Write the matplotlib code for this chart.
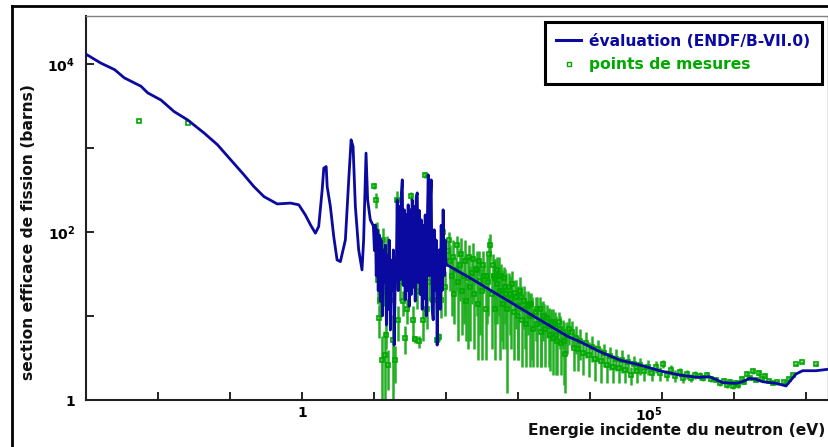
import numpy as np
import matplotlib
matplotlib.use("Agg")
import matplotlib.pyplot as plt
from matplotlib.lines import Line2D

plt.rcParams['mathtext.fontset'] = 'dejavusans'

# evaluated curve (ENDF/B-VII.0), energy in eV, cross section in barns
eval_energy = [1.0e-3, 1.6e-3, 2.5e-3, 3.4e-3, 5.8e-3, 7.2e-3, 0.011, 0.0167, 0.0257,
               0.0436, 0.0667, 0.102, 0.156, 0.214, 0.295, 0.452, 0.69, 0.90, 1.11,
               1.31, 1.53, 1.70, 1.90, 2.00, 2.16, 2.23, 2.47, 2.75, 3.06, 3.40, 3.99,
               4.44, 4.79, 5.10, 5.49, 6.10, 6.79, 7.15, 7.72, 8.13, 8.85,
               9.75, 10.1, 10.4, 10.7, 11.0, 11.4, 11.8, 12.2, 12.6, 13.0, 13.4, 13.8,
               14.3, 14.8, 15.2, 15.7, 16.2, 16.8, 17.3, 17.9, 18.5, 19.0, 19.7, 20.3,
               20.9, 21.6, 22.3, 23.1, 23.8, 24.6, 25.4, 26.2, 27.0, 27.9, 28.8, 29.7,
               30.7, 31.7, 32.8, 33.8, 34.9, 36.0, 37.2, 38.4, 39.7, 41.0, 42.3, 43.7,
               45.1, 46.5, 48.0, 49.6, 51.2, 52.9, 54.6, 56.4, 58.2, 60.0, 62.0, 64.0,
               66.1, 68.2, 70.4, 72.7, 75.0, 77.5, 80.0, 82.6, 85.3, 88.0, 90.8, 93.8,
               96.8, 100.0,
               103, 239, 693, 2004, 4940, 7180, 13600, 25700, 48600, 92000, 174000,
               309000, 454000, 693000, 1.06e6, 1.31e6, 1.62e6, 2.01e6, 2.48e6, 3.80e6,
               5.23e6, 6.14e6, 7.20e6, 8.89e6, 1.36e7, 2.0e7]
eval_sigma = [13000, 10200, 8500, 6800, 5400, 4500, 3700, 2700, 2150,
              1500, 1090, 720, 477, 346, 263, 215, 220, 210, 159,
              121, 96.5, 116, 316, 573, 599, 346, 200, 88, 46.4, 44.3, 80.3,
              416, 1245, 1037, 200, 61.1, 35.3, 80.3, 865, 240, 139,
              118, 60, 121, 30, 106, 20, 92, 15, 80, 10, 61, 25,
              70, 7.8, 53, 12, 80, 6.8, 46, 20, 61, 4.5, 30, 35,
              240, 20, 200, 27, 276, 416, 23, 183, 15.5, 160, 20, 210,
              13, 183, 18, 240, 22, 200, 15, 260, 291, 25, 180, 18,
              139, 12, 120, 16, 159, 10, 120, 477, 30, 200, 416, 12,
              9.0, 106, 20, 80, 4.5, 40, 61, 12, 120, 20, 183, 30,
              80, 40,
              40.5, 26.8, 15.5, 8.96, 5.67, 4.95, 3.76, 2.99, 2.61, 2.23, 1.98,
              1.86, 1.89, 1.61, 1.58, 1.65, 1.81, 1.76, 1.65, 1.58,
              1.47, 1.73, 2.04, 2.23, 2.23, 2.32]

# measured points: energy (eV), cross section (b), uncertainty (b)
meas_energy = [5.4e-3, 0.026,
               10.1, 10.7, 11.0, 11.4, 11.8, 12.2, 12.9, 13.4, 13.8, 14.3, 14.8, 15.2,
               15.7, 16.8, 18.2, 19.0, 19.7, 20.9, 21.3, 21.6, 22.4, 23.1, 24.6, 25.4,
               27.0, 28.8, 30.7, 32.8, 34.9, 37.2, 39.7, 42.3, 45.1, 48.0, 51.2, 54.6,
               58.0, 62.0, 66.1, 70.4, 75.0, 80.0, 85.3, 90.8, 96.8,
               105, 114, 122, 130, 138, 147, 156, 166, 176, 187, 199, 215, 228, 242,
               258, 274, 296, 313, 333, 354, 377, 407, 427, 455, 484, 515, 560, 583,
               620, 660, 700, 770, 820, 870, 925, 985, 1060, 1120, 1190, 1270, 1350,
               1460, 1530, 1630, 1740, 1850, 2000, 2100, 2230, 2380, 2530, 2760, 2870,
               3050, 3240, 3450, 3790, 3900, 4150, 4420, 4700, 5540, 5900, 6270, 6670,
               7180, 7870, 8660, 9550, 10500, 11600, 12800, 14100, 15500, 17100, 18700,
               20700, 22800, 25100, 27700, 30500, 33600, 37000, 40800, 45000, 48600,
               55900, 63200, 71500, 80800, 92000, 103000, 117000, 132000, 150000,
               174000, 197000, 223000, 253000, 287000, 330000, 366000, 418000, 480000,
               550000, 624000, 710000, 780000, 859000, 945000, 1.04e6, 1.14e6, 1.26e6,
               1.38e6, 1.52e6, 1.67e6, 1.84e6, 2.03e6, 2.23e6, 2.45e6, 2.70e6, 3.08e6,
               3.48e6, 3.97e6, 4.84e6, 5.82e6, 6.6e6, 7.3e6, 8.6e6, 1.37e7,
               110, 126, 143, 160, 180, 205, 235, 265, 290, 325, 365, 395, 440, 470,
               500, 540, 600, 640, 680, 740, 800, 900, 1000, 1100, 1230, 1400, 1580,
               1800, 2050, 2300, 2650, 3000, 3350, 3700, 4300, 5000]
meas_sigma = [2100, 1970,
              350, 240, 100, 27, 9.5, 15.5, 3.0, 80, 20, 3.4, 5.9, 60,
              2.6, 15.5, 5.2, 27, 3.0, 240, 46, 9, 150, 25, 110, 15,
              5.5, 12, 55, 270, 9, 5.3, 20, 5.0, 60, 9, 480, 12,
              25, 100, 15.5, 50, 5.2, 5.6, 15.5, 100, 22,
              60, 45, 30, 18, 35, 25, 40, 20, 30, 15, 28, 22, 32, 18,
              36, 14, 26, 20, 30, 12, 25, 70, 18, 30, 12, 24, 20, 30,
              14, 22, 12, 18, 24, 11, 17, 10, 20, 9, 15, 8, 13,
              10, 14, 7, 11, 8, 12, 6.5, 10, 7, 9.5, 6, 8.5,
              5.5, 8, 5, 7, 4.8, 6.5, 3.5, 6, 6.5, 4.2, 5.5, 4,
              5, 3.6, 4.8, 3.4, 4.3, 3.1, 4.0, 2.9, 3.6, 2.6, 3.3,
              2.5, 3.1, 2.4, 3.0, 2.3, 2.8, 2.0, 2.7, 2.2, 2.6,
              2.2, 2.5, 2.1, 2.5, 2.1, 2.7, 2.0, 2.3, 1.95,
              2.15, 1.85, 2.05, 1.85, 2.0, 1.95, 1.85, 2.0, 1.8,
              1.75, 1.6, 1.7, 1.5, 1.65, 1.45, 1.6, 1.5, 1.8,
              1.65, 2.05, 1.85, 2.2, 1.75, 2.1, 1.8, 1.95, 1.7,
              1.6, 1.62, 1.65, 1.8, 2.0, 2.65, 2.85, 2.65,
              80, 50, 70, 55, 45, 50, 48, 35, 45, 40, 30, 55, 40, 28,
              35, 30, 20, 28, 18, 22, 16, 19, 13, 17, 12, 14, 10,
              12, 8.5, 10, 7.5, 8.5, 6, 8.5, 5, 7]
meas_error = [0, 0,
              30, 50, 30, 13, 4, 5, 2.8, 30, 7, 3.2, 1.9, 30,
              1.3, 5, 5.0, 10, 1.4, 70, 15, 4, 60, 10, 40, 5,
              2, 4, 20, 30, 4, 0.5, 8, 0.8, 20, 4, 40, 5,
              10, 35, 5, 15, 0.5, 0.6, 6, 30, 12,
              15, 25, 20, 10, 15, 20, 25, 14, 22, 10, 24, 17, 18, 14,
              12, 11, 20, 17, 10, 9, 15, 25, 14, 18, 9, 16, 17, 12,
              10, 14, 10.8, 12, 10, 8, 10, 7, 9, 6.5, 8, 5.5, 7,
              7.5, 5, 4.5, 6, 5.5, 5, 4, 5, 4.5, 4, 3.8, 3.5,
              3.5, 3, 3, 3, 2.8, 2.5, 2.3, 2.5, 2.3, 2, 2, 1.8,
              2, 1.6, 1.6, 1.5, 1.5, 1.4, 1.2, 1.3, 1.1, 1.0, 1.0,
              0.9, 0.9, 0.8, 0.9, 0.7, 0.7, 0.5, 0.6, 0.6, 0.6,
              0.5, 0.5, 0.4, 0.4, 0.4, 0.3, 0.3, 0.3, 0.3,
              0.25, 0.25, 0.25, 0.2, 0.2, 0.2, 0.15, 0.15, 0.15,
              0.12, 0.15, 0.15, 0.12, 0.15, 0.1, 0.12, 0.12, 0.15,
              0.12, 0.15, 0.12, 0.15, 0.12, 0.15, 0.12, 0.12, 0.1,
              0.1, 0.1, 0.08, 0.1, 0.1, 0.1, 0.1, 0.1,
              20, 30, 20, 30, 35, 20, 25, 25, 15, 20, 22, 30, 15, 20,
              15, 20, 15, 10, 14, 10, 12, 8, 10, 6, 8, 5, 7,
              5, 6, 4, 5, 3.5, 4, 2.5, 3.5, 2.5]

blue = '#0a0aa0'
green = '#00a800'
font = 'DejaVu Sans'

fig = plt.figure(figsize=(8.29, 4.47), dpi=100)
ax = fig.add_axes([86/829, 47/447, 742/829, 384/447])

ax.errorbar(meas_energy, meas_sigma, yerr=meas_error, fmt='s', ms=3.5, mfc='none',
            mec=green, mew=1.2, ecolor='#22b022', elinewidth=1.8, capsize=0, zorder=2)
ax.plot(eval_energy, eval_sigma, color=blue, lw=2.0, zorder=3)

ax.set_xscale('log')
ax.set_yscale('log')
ax.set_xlim(1e-3, 2e7)
ax.set_ylim(1, 3.7e4)

ax.set_xticks([10.0**k for k in range(-3, 8)])
ax.set_xticklabels(['', '', '', '1', '', '', '', '', r'$\mathbf{10^5}$', '', ''])
ax.set_yticks([1, 10, 100, 1000, 10000])
ax.set_yticklabels(['1', '', r'$\mathbf{10^2}$', '', r'$\mathbf{10^4}$'])
ax.minorticks_off()
ax.tick_params(direction='in', length=6, width=1.2, labelsize=10)
ax.tick_params(axis='y', pad=8)
ax.tick_params(axis='x', pad=4)
for lab in ax.get_xticklabels() + ax.get_yticklabels():
    lab.set_fontweight('bold')
ax.get_xticklabels()[8].set_ha('right')
for s in ['left', 'bottom']:
    ax.spines[s].set_linewidth(1.5)
    ax.spines[s].set_color('#202020')
for s in ['top', 'right']:
    ax.spines[s].set_linewidth(1.0)
    ax.spines[s].set_color('#808080')

fig.text(825/829, 1 - 431/447, 'Energie incidente du neutron (eV)', ha='right', va='center',
         fontsize=11.2, fontweight='bold', family=font, color='#111111')
fig.text(28.5/829, 1 - 232/447, 'section efficace de fission (barns)', ha='center', va='center',
         rotation=90, fontsize=11.2, fontweight='bold', family=font, color='#111111')

handles = [Line2D([], [], color=blue, lw=2.2),
           Line2D([], [], ls='none', marker='s', ms=3, mfc='none', mec=green, mew=1)]
leg = ax.legend(handles, ['évaluation (ENDF/B-VII.0)', 'points de mesures'],
                loc='upper right', bbox_to_anchor=(0.992, 0.984), borderaxespad=0,
                fancybox=False, framealpha=1, edgecolor='black', handlelength=1.6,
                handletextpad=0.5, labelspacing=0.55, borderpad=0.75,
                prop={'family': font, 'weight': 'bold', 'size': 11.2})
leg.get_frame().set_linewidth(2.2)
leg.get_texts()[0].set_color(blue)
leg.get_texts()[1].set_color(green)

# outer frame
fig.add_artist(Line2D([12/829, 12/829], [0, 1 - 6/447], color='black', lw=2))
fig.add_artist(Line2D([12/829, 1], [1 - 6/447, 1 - 6/447], color='black', lw=2))

fig.savefig('out.png', dpi=100)
